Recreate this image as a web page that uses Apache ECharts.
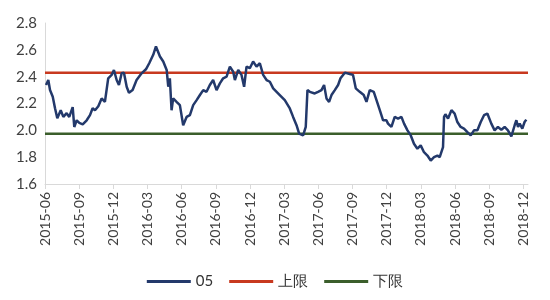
<!DOCTYPE html>
<html>
<head>
<meta charset="utf-8">
<script src="https://cdn.jsdelivr.net/npm/echarts@6/dist/echarts.min.js"></script>
<style>
html,body{margin:0;padding:0;background:#fff;}
#chart{width:550px;height:300px;}
</style>
</head>
<body>
<div id="chart"></div>
<script>
// Time expressed in months counted from 2015-06 (0 = 2015-06)
var tickLabels = ['2015-06','2015-09','2015-12','2016-03','2016-06','2016-09','2016-12','2017-03','2017-06','2017-09','2017-12','2018-03','2018-06','2018-09','2018-12'];
var months = [0.09,0.29,0.44,0.68,0.88,1.08,1.38,1.61,1.90,2.13,2.43,2.57,2.78,3.01,3.31,3.66,3.95,4.18,4.39,4.68,4.97,5.26,5.55,5.85,6.05,6.29,6.49,6.73,6.93,7.17,7.37,7.69,8.04,8.48,8.86,9.15,9.5,9.74,
  9.8,10.09,10.38,10.68,10.82,10.96,11.11,11.25,11.55,11.84,12.13,12.43,12.72,13.01,13.31,13.6,13.89,14.18,14.47,14.76,15.06,15.35,15.64,15.94,16.23,16.52,16.67,16.96,17.25,17.48,17.69,17.98,18.27,18.57,18.86,19.15,19.45,19.74,20.03,
  20.18,20.61,21.05,21.49,21.78,22.08,22.31,22.66,22.89,23.04,23.25,23.68,23.97,24.27,24.5,24.71,24.94,25.15,25.44,25.73,25.94,26.32,26.75,27.04,27.28,27.63,27.98,28.22,28.51,28.86,29.1,29.39,29.68,29.97,
  30.11,30.41,30.7,30.99,31.29,31.52,31.82,32.11,32.39,32.69,32.98,33.27,33.57,33.86,34.15,34.45,34.65,34.8,34.94,35.03,35.15,35.38,35.68,35.96,36.2,36.49,36.78,37.08,37.37,37.66,37.96,38.25,38.54,38.83,
  39.18,39.47,39.76,40.06,40.35,40.64,40.94,41.23,41.38,41.52,41.67,41.9,42.1,42.25];
var values05 = [2.338,2.375,2.30,2.25,2.165,2.09,2.15,2.10,2.128,2.10,2.173,2.025,2.075,2.055,2.045,2.075,2.113,2.165,2.15,2.18,2.238,2.212,2.388,2.413,2.45,2.375,2.338,2.425,2.43,2.325,2.28,2.30,2.375,2.425,2.455,2.50,2.563,2.625,
  2.613,2.55,2.513,2.45,2.325,2.388,2.15,2.238,2.212,2.188,2.038,2.10,2.113,2.188,2.225,2.263,2.30,2.287,2.338,2.375,2.30,2.35,2.388,2.40,2.475,2.437,2.375,2.45,2.413,2.325,2.475,2.463,2.513,2.475,2.50,2.413,2.375,2.362,2.313,
  2.313,2.263,2.225,2.163,2.10,2.038,1.975,1.962,2.025,2.30,2.287,2.275,2.287,2.30,2.338,2.238,2.212,2.263,2.30,2.338,2.388,2.43,2.42,2.413,2.313,2.287,2.263,2.212,2.30,2.287,2.225,2.15,2.075,2.075,
  2.05,2.025,2.10,2.088,2.10,2.05,2.00,1.962,1.90,1.863,1.888,1.837,1.812,1.775,1.80,1.812,1.80,1.812,1.875,2.10,2.12,2.088,2.15,2.125,2.062,2.025,2.013,1.987,1.962,2.00,2.00,2.062,2.113,2.125,
  2.05,2.00,2.025,2.005,2.025,2.00,1.955,2.038,2.075,2.025,2.05,2.013,2.062,2.08];
var upperLimit = 2.43;
var lowerLimit = 1.975;
var axisStart = 0, axisEnd = 42.4;

var seriesData = months.map(function(m,i){ return [m, values05[i]]; });
var FONT = 'Lato';

var chart = echarts.init(document.getElementById('chart'));
chart.setOption({
  animation:false,
  backgroundColor:'#ffffff',
  grid:{left:45,right:22,top:23,bottom:116,containLabel:false},
  legend:{
    bottom:6, left:'center', itemGap:16,
    itemWidth:44, itemHeight:3, icon:'rect',
    textStyle:{fontFamily:FONT,fontSize:15,color:'#333'},
    data:['05','上限','下限']
  },
  xAxis:{
    type:'value', min:axisStart, max:axisEnd, interval:3,
    axisLine:{show:true,lineStyle:{color:'#d9d9d9',width:1}},
    axisTick:{show:true,length:5,lineStyle:{color:'#d9d9d9'}},
    splitLine:{show:false},
    axisLabel:{
      rotate:90, margin:8, fontFamily:FONT, fontSize:14, color:'#404040',
      showMaxLabel:false,
      formatter:function(v){ var i=Math.round(v/3); return tickLabels[i]||''; }
    }
  },
  yAxis:{
    type:'value', min:1.6, max:2.8, interval:0.2,
    axisLine:{show:true,lineStyle:{color:'#d9d9d9'}},
    axisTick:{show:false},
    splitLine:{show:false},
    axisLabel:{fontFamily:FONT,fontSize:15,color:'#404040',margin:8,
      formatter:function(v){return v.toFixed(1);}}
  },
  series:[
    {name:'05',type:'line',data:seriesData,showSymbol:false,symbol:'none',
     lineStyle:{color:'#23396b',width:2.5},itemStyle:{color:'#23396b'},z:3},
    {name:'上限',type:'line',data:[[axisStart,upperLimit],[axisEnd,upperLimit]],symbol:'none',
     lineStyle:{color:'#c8391f',width:2.5},itemStyle:{color:'#c8391f'},z:2},
    {name:'下限',type:'line',data:[[axisStart,lowerLimit],[axisEnd,lowerLimit]],symbol:'none',
     lineStyle:{color:'#3b5e2b',width:2.5},itemStyle:{color:'#3b5e2b'},z:2}
  ]
});
</script>
</body>
</html>
